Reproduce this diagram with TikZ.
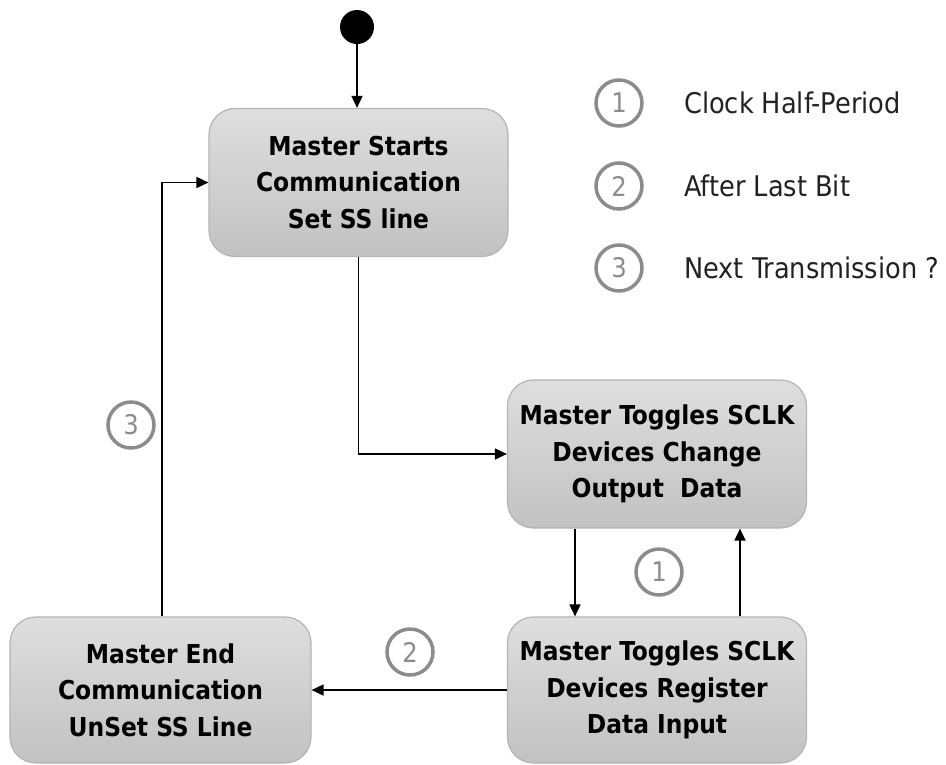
\documentclass[tikz,border=0pt]{standalone}
\usepackage{fontspec}
\setmainfont{DejaVu Sans Condensed}
\usetikzlibrary{arrows.meta,positioning}
\definecolor{boxtop}{HTML}{DEDEDE}
\definecolor{boxbot}{HTML}{C2C2C2}
\definecolor{boxedge}{HTML}{B4B4B4}
\definecolor{ringgray}{HTML}{8C8C8C}
\definecolor{legendtext}{HTML}{222222}
\tikzset{
  state/.style={rounded corners=26pt, draw=boxedge, line width=1.2pt,
    top color=boxtop, bottom color=boxbot, minimum width=299pt,
    minimum height=148pt, align=center, inner sep=0pt,
    font=\fontsize{26}{36.5}\selectfont\bfseries},
  arr/.style={line width=1.8pt, -{Triangle[length=12pt,width=11pt]}},
  tag/.style={circle, draw=ringgray, line width=3.5pt, minimum size=46pt,
    inner sep=0pt, text=ringgray, font=\fontsize{27}{27}\selectfont},
  legend/.style={anchor=west, inner sep=0pt, text=legendtext,
    font=\fontsize{28.5}{28.5}\selectfont}
}
\begin{document}
\begin{tikzpicture}[x=1pt,y=-1pt]
\useasboundingbox (0,0) rectangle (946,764);
% initial state
\node[circle, fill=black, minimum size=34pt, inner sep=0pt] (init) at (357,27) {};
% states
\node[state] (start) at (358.5,182.5) {Master Starts\\Communication\\Set SS line};
\node[state] (chg) at (657,454) {Master Toggles SCLK\\Devices Change\\Output\ \ Data};
\node[state, minimum height=146pt] (reg) at (657,690) {Master Toggles SCLK\\Devices Register\\Data Input};
\node[state, minimum width=301pt, minimum height=146pt] (fin) at (160.5,690) {Master End\\Communication\\UnSet SS Line};
% transitions
\draw[arr] (init) -- (init |- start.north);
\draw[arr] (start.south) |- (chg.west);
\draw[arr] ([xshift=-82pt]chg.south) -- ([xshift=-82pt]reg.north);
\draw[arr] ([xshift=83pt]reg.north) -- ([xshift=83pt]chg.south);
\draw[arr] (reg.west) -- (fin.east);
\draw[arr] ([xshift=1.5pt]fin.north) |- (start.west);
% transition tags
\node[tag] (t1) at (659,572) {1};
\node[tag] (t2) at (410,652) {2};
\node[tag] (t3) at (131,425) {3};
% legend
\node[tag] (l1) at (619,103) {1};
\node[tag] (l2) at (619,186) {2};
\node[tag] (l3) at (619,268) {3};
\node[legend] (d1) at (684,103) {Clock Half-Period};
\node[legend] (d2) at (684,186) {After Last Bit};
\node[legend] (d3) at (684,268) {Next Transmission ?};
\end{tikzpicture}
\end{document}
